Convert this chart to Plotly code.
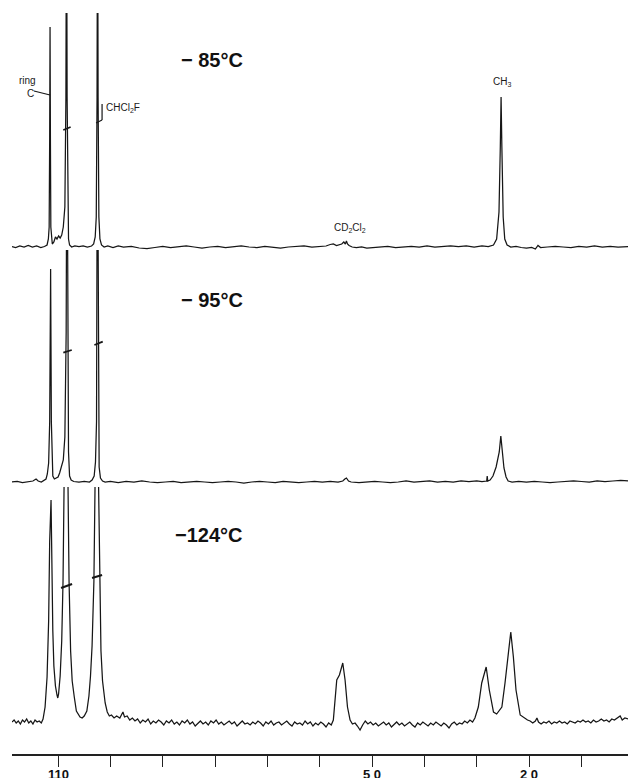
import plotly.graph_objects as go

# ---------------- data (ppm, intensity above each baseline) ----------------
TOP_PPM = [118.8,118.1,117.3,116.5,115.7,114.9,114.1,113.3,112.6,112.1,111.85,111.7,111.6,111.53,111.46,111.38,111.25,111.1,
           110.8,110.5,110.2,109.9,109.6,109.3,109.0,108.7,108.5,108.38,108.27,108.15,108.0,107.8,107.4,106.8,106.0,105.2,104.4,
           103.6,103.2,102.9,102.7,102.55,102.45,102.35,102.2,102.0,101.7,101.2,100.5,99.5,98.5,97.5,96.0,94.5,93.0,91.5,90.0,
           88.5,87.0,85.5,84.0,82.5,81.0,79.5,78.0,76.5,75.0,73.5,72.0,70.5,69.0,67.5,66.0,64.5,63.0,61.5,60.0,58.8,58.0,57.4,
           56.8,56.2,55.8,55.4,55.1,54.9,54.7,54.4,53.8,53.0,52.0,51.0,50.0,48.5,47.0,45.5,44.0,42.5,41.0,39.5,38.0,36.5,35.0,
           33.5,32.0,30.5,29.0,27.8,26.8,26.2,25.75,25.5,25.35,25.2,24.95,24.65,24.2,23.5,22.5,21.5,20.5,19.5,18.8,18.3,17.8,
           16.5,15.0,13.5,12.0,10.5,9.0,7.5,6.0,4.5,3.0,1.1]
TOP_INT = [0.5,-0.5,1,0,1.5,0,1,-0.5,0.5,2,8,20,110,220,110,20,8,3,
           5,10,8,11,9,12,20,40,150,400,150,30,8,2,0,1,0.5,1,0,
           1,3,10,30,150,400,150,30,8,2,0,1,-0.5,1,0,0.5,-1,-1.5,-0.5,0.5,
           -0.5,0,1,0,-1,0,0.5,-0.5,0,1,0,-0.5,0.5,0,-1,0,0.5,1,0,0.5,1,2.5,3,
           1.5,2,3,5,3,6,3,1.5,0,-0.5,0,-1,-0.5,0,0.5,-0.5,0,0.5,0,1,0,0.5,1,
           0.5,1,0,1,0.5,2,8,35,100,150,100,30,8,2,0,0.5,-0.5,-1,-0.5,-2,1.5,-0.5,
           0,0.5,0,-0.5,0.5,0,1,0,0.5,0,0.5]

MID_PPM = [118.8,117.8,116.8,115.8,114.8,114.2,113.8,113.2,112.8,112.3,112.05,111.8,111.6,111.42,111.28,111.15,111.0,110.7,
           110.3,110.0,109.7,109.4,109.0,108.7,108.45,108.3,108.15,108.0,107.8,107.5,107.0,106.0,105.0,104.0,103.5,103.1,
           102.85,102.65,102.48,102.3,102.15,101.9,101.5,101.0,100.0,98.5,97.0,95.5,94.0,92.5,91.0,89.5,88.0,86.5,85.0,83.5,
           82.0,80.5,79.0,77.5,76.0,74.5,73.0,71.5,70.0,68.5,67.0,65.5,64.0,62.5,61.0,59.5,58.0,56.5,55.6,55.2,54.9,54.5,54.0,
           52.5,51.0,49.5,48.0,46.5,45.0,43.5,42.0,40.5,39.0,37.5,36.0,34.5,33.0,31.5,30.0,29.0,28.1,28.0,27.9,27.45,26.9,
           26.3,25.7,25.4,25.05,24.8,24.4,24.0,23.25,22.0,20.5,19.0,17.5,16.0,14.5,13.0,11.5,10.0,8.5,7.0,5.5,4.0,2.5,1.1]
MID_INT = [0,0.5,-0.5,0,1,3,1,0,1,3,8,19,60,213,60,19,6,3,
           4,5,9,14,22,45,150,400,150,30,6,2,0.5,0,0.5,0,2,6,
           20,60,400,60,15,4,1,0,0.5,-0.5,0.5,0,1,0,-0.5,0,0.5,-0.5,0,0.5,
           0,-0.5,0,0.5,0,-1,0,0.5,0,-0.5,0.5,0,-0.5,0,0.5,0,0.5,0,1,3,4,1,0,
           -0.5,0,0.5,0,-0.5,0,1,0,0.5,1,0,0.5,0,1,0.5,1,0.5,1,6,1,2,6,
           15,30,46,28,14,5,1,0,0.5,0,0.5,0,-0.5,0,0.5,1,0.5,0,1,0.5,1,1.5,1]

BOT_PPM = [118.8,118.4,118.0,117.6,117.2,116.8,116.4,116.0,115.6,115.2,114.8,114.4,114.0,113.6,113.2,112.87,112.48,112.1,
           111.8,111.6,111.34,111.2,111.0,110.8,110.5,110.2,110.05,109.9,109.6,109.3,109.05,108.8,108.5,108.15,107.9,107.6,
           107.3,106.9,106.5,105.8,105.4,105.0,104.5,104.1,103.8,103.5,103.15,102.9,102.6,102.3,102.05,101.8,101.5,101.0,
           100.6,100.2,99.8,99.3,98.8,98.2,97.6,97.3,96.8,96.3,95.8,95.3,94.8,94.3,93.8,93.3,92.8,92.3,91.8,91.3,90.8,90.3,
           89.8,89.3,88.8,88.3,87.8,87.3,86.8,86.3,85.8,85.3,84.8,84.3,83.8,83.3,82.8,82.3,81.8,81.3,80.8,80.3,79.8,79.3,
           78.8,78.3,77.8,77.3,76.8,76.3,75.8,75.3,74.8,74.3,73.8,73.3,72.8,72.3,71.8,71.3,70.8,70.3,69.8,69.3,68.8,68.3,
           67.8,67.3,66.8,66.3,65.8,65.3,64.8,64.3,63.8,63.3,62.8,62.3,61.8,61.3,60.8,60.3,59.8,59.3,58.8,58.3,57.8,57.4,
           56.75,56.24,55.6,55.16,54.7,54.2,53.75,53.25,52.8,52.3,51.8,51.3,50.8,50.3,49.8,49.3,48.8,48.3,47.8,47.3,46.8,
           46.3,45.8,45.3,44.8,44.3,43.8,43.3,42.8,42.3,41.8,41.3,40.8,40.3,39.8,39.3,38.8,38.3,37.8,37.3,36.8,36.3,35.8,
           35.3,34.8,34.3,33.8,33.3,32.8,32.3,31.8,31.3,30.8,30.35,29.7,29.05,28.2,27.6,26.8,26.2,25.2,24.6,23.95,23.5,23.0,
           22.5,21.7,21.2,20.75,20.3,19.8,19.3,18.8,18.5,18.2,17.7,17.2,16.7,16.2,15.7,15.2,14.7,14.2,13.7,13.2,12.7,12.2,
           11.7,11.2,10.7,10.2,9.7,9.2,8.7,8.2,7.7,7.2,6.7,6.2,5.7,5.2,4.7,4.2,3.7,3.2,2.6,2.2,1.7,1.1]
BOT_INT = [-1,1,-2,0,-3,1,-1,2,-2,0,-3,1,-1,0,-2,2,14,44,
           100,180,221,160,90,55,35,26,23,27,45,80,140,260,400,260,140,70,
           40,24,10,4,3,5,10,25,45,75,140,250,400,250,130,70,40,18,
           9,5,6,3,5,3,9,4,5,1,3,0,2,-2,1,-1,2,-3,0,-2,1,-1,
           -4,0,-2,1,-3,-1,-4,0,-2,1,-3,-1,-5,-2,0,-3,-1,-4,0,-2,1,-3,
           -1,-4,-2,0,-3,-1,-5,-2,0,-3,-2,-4,-1,-3,0,-2,-5,-1,-3,0,-4,-2,
           -1,-4,-2,0,-3,-5,-1,-3,-2,-4,0,-3,-1,-5,-2,-4,-1,-3,-6,-2,-4,1,
           41,46,58,41,14,1,-3,-2,-5,-9,-4,0,-3,-1,-4,-2,-5,-3,-1,-4,-2,
           -6,-3,-1,-4,-2,-5,-3,-1,-4,-6,-2,-4,-1,-3,-5,-2,-4,-1,-3,-5,-2,-4,
           -7,-3,-1,-4,-2,-3,0,-2,1,-1,3,14,38,54,31,9,7,14,38,71,89,64,
           31,6,4,3,1,0,-2,0,3,-1,-3,-1,-2,0,-3,-1,-2,0,-2,-1,-3,0,
           -1,-2,0,-1,1,-1,0,-2,1,-1,0,2,0,1,-1,2,1,3,5,1,3,2]

TICK_VALS = [110, 100, 90, 80, 70, 60, 50, 40, 30, 20, 10]
LABEL_VALS = [110, 50, 20]
LABEL_TEXT = ["110", "5 0", "2 0"]
TEMPS = ["\u2212 85\u00b0C", "\u2212 95\u00b0C", "\u2212124\u00b0C"]

# ---------------- layout helpers (pixel geometry of the page) ----------------
W, H = 628, 778
ML, MB = 12, 24
PLOT_H = H - MB
def frac(py):
    return 1 - py / PLOT_H

LINE = dict(color="#161616", width=1.25)

fig = go.Figure()
fig.add_trace(go.Scatter(x=TOP_PPM, y=TOP_INT, mode="lines", line=LINE, xaxis="x", yaxis="y"))
fig.add_trace(go.Scatter(x=MID_PPM, y=MID_INT, mode="lines", line=LINE, xaxis="x", yaxis="y2"))
fig.add_trace(go.Scatter(x=BOT_PPM, y=BOT_INT, mode="lines", line=LINE, xaxis="x", yaxis="y3"))

hidden = dict(visible=False, showgrid=False, zeroline=False, fixedrange=True)
fig.update_layout(
    width=W, height=H,
    margin=dict(l=ML, r=0, t=0, b=MB),
    paper_bgcolor="white", plot_bgcolor="rgba(0,0,0,0)",
    showlegend=False,
    xaxis=dict(domain=[0, 1], range=[118.8, 1.1], anchor="y3",
               tickmode="array", tickvals=TICK_VALS, showticklabels=False,
               ticks="outside", ticklen=11, tickwidth=1.2, tickcolor="#222",
               showline=True, linecolor="#222", linewidth=1.5,
               showgrid=False, zeroline=False),
    yaxis=dict(domain=[frac(262), frac(13)], range=[-15, 234], **hidden),
    yaxis2=dict(domain=[frac(492), frac(250)], range=[-10, 232], **hidden),
    yaxis3=dict(domain=[0, frac(487)], range=[-33, 234], **hidden),
)

# x tick labels at the foot of the page (slightly cut, as in the original)
for v, t in zip(LABEL_VALS, LABEL_TEXT):
    fig.add_annotation(x=v, y=frac(774), xref="x", yref="paper", text=t, showarrow=False,
                       xanchor="center", yanchor="middle", borderpad=0,
                       font=dict(family="Liberation Sans", size=13, color="#111", weight="bold"))

# temperature labels
for t, yref, yv in zip(TEMPS, ["y", "y2", "y3"], [187, 182, 186]):
    fig.add_annotation(x=74.3, y=yv, xref="x", yref=yref, text=t, showarrow=False,
                       xanchor="right", yanchor="middle",
                       font=dict(family="Liberation Sans", size=20, color="#111", weight="bold"))

small = dict(family="Liberation Sans", size=10, color="#1a1a1a")
fig.add_annotation(x=115.9, y=167, xref="x", yref="y", text="ring", showarrow=False, font=small)
fig.add_annotation(x=115.3, y=154, xref="x", yref="y", text="C", showarrow=False, font=small)
fig.add_annotation(x=101.3, y=139, xref="x", yref="y", text="CHCl<sub>2</sub>F", showarrow=False,
                   xanchor="left", font=small)
fig.add_annotation(x=54.2, y=19, xref="x", yref="y", text="CD<sub>2</sub>Cl<sub>2</sub>", showarrow=False, font=small)
fig.add_annotation(x=25.15, y=165, xref="x", yref="y", text="CH<sub>3</sub>", showarrow=False, font=small)

def seg(x0, y0, x1, y1, yref, w=1.2):
    fig.add_shape(type="line", x0=x0, y0=y0, x1=x1, y1=y1, xref="x", yref=yref,
                  line=dict(color="#161616", width=w))

# pointers
seg(114.6, 156, 111.53, 152, "y")
seg(102.74, 124, 101.59, 127, "y")
seg(101.59, 127, 101.59, 143, "y")
# integration-style dashes on peaks
seg(109.0, 117, 107.6, 120, "y", 1.6)
seg(108.99, 129.3, 107.38, 132, "y2", 1.8)
seg(103.06, 137, 101.46, 140.3, "y2", 1.8)
seg(109.43, 133, 107.32, 137, "y3", 2.2)
seg(103.5, 143, 101.59, 146, "y3", 2.2)

fig.write_html("out.html", config={"displayModeBar": False},
               post_script="document.body.style.margin='0';document.body.style.overflow='hidden';")
